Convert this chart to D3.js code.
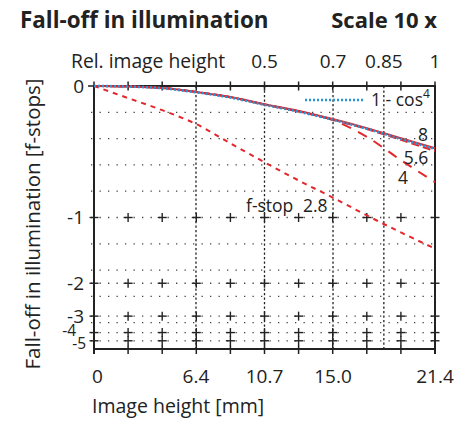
<!DOCTYPE html>
<html><head><meta charset="utf-8">
<script src="https://cdn.jsdelivr.net/npm/d3@7"></script>
<style>
body{margin:0;background:#fff}
text{font-family:"Open Sans",sans-serif;fill:#222}
</style>
</head><body>
<svg id="c" width="458" height="421"></svg>
<script>
// ---- data ----
const imageHeight = [0, 2.14, 4.28, 6.42, 8.56, 10.7, 12.84, 14.98, 17.12, 19.26, 21.4]; // mm
const f8   = [0, -0.003, -0.011, -0.033, -0.062, -0.104, -0.144, -0.194, -0.252, -0.319, -0.390];
const f56  = [0, -0.003, -0.011, -0.033, -0.062, -0.105, -0.146, -0.197, -0.258, -0.330, -0.410];
const f4   = [0, -0.003, -0.011, -0.033, -0.063, -0.105, -0.147, -0.200, -0.310, -0.478, -0.657];
const f28  = [0, -0.068, -0.139, -0.226, -0.355, -0.494, -0.642, -0.796, -0.977, -1.174, -1.389];
const cos4 = [0, -0.003, -0.012, -0.035, -0.065, -0.107, -0.148, -0.198, -0.256, -0.324, -0.395];
const xTickValues = [0, 6.4, 10.7, 15.0, 21.4];
const xTickLabels = ["0", "6.4", "10.7", "15.0", "21.4"];
const relTickValues = [10.7, 15.0, 18.19, 21.4];
const relTickLabels = ["0.5", "0.7", "0.85", "1"];
const vGridValues = [6.4, 10.7, 15.0, 18.19];
const yTickStops = [0, -1, -2, -3, -4, -5];
const yTickLabels = ["0", "-1", "-2", "-3", "-4", "-5"];
const gridIllum = [0.9, 0.8, 0.7, 0.6, 0.4, 0.3, 0.2, 0.1];
const stopRows = [-1, -2, -3, -4, -5];

// ---- scales ----
const svg = d3.select("#c");
const L = 94, R = 435, T = 86, B = 349;
const x = d3.scaleLinear().domain([0, 21.4]).range([L, R]);
const yI = d3.scaleLinear().domain([1, 0]).range([T, B]); // relative illumination
const y = v => yI(Math.pow(2, v)); // stops -> px
const red = "#e3262b", blue = "#2596d6", ink = "#222";

// title
svg.append("text").attr("x", 20).attr("y", 28).attr("font-size", 22.4).attr("font-weight", "bold")
  .text("Fall-off in illumination");
svg.append("text").attr("x", 437).attr("y", 28).attr("font-size", 22).attr("font-weight", "bold")
  .attr("text-anchor", "end").text("Scale 10 x");

// gridlines horizontal (dotted)
const g = svg.append("g");
gridIllum.concat(stopRows.map(s => Math.pow(2, s))).forEach(v => {
  g.append("line").attr("x1", L - 3).attr("x2", R + 3).attr("y1", yI(v)).attr("y2", yI(v))
    .attr("stroke", "#444").attr("stroke-width", 1.3).attr("stroke-dasharray", "1.3,7.2");
});
// vertical dotted lines
vGridValues.forEach(v => {
  g.append("line").attr("x1", x(v)).attr("x2", x(v)).attr("y1", T).attr("y2", B)
    .attr("stroke", ink).attr("stroke-width", 1.3).attr("stroke-dasharray", "2.2,2.3");
});
// plus markers
stopRows.forEach(s => {
  imageHeight.forEach(h => {
    const cx = x(h), cy = y(s);
    g.append("line").attr("x1", cx - 4.5).attr("x2", cx + 4.5).attr("y1", cy).attr("y2", cy).attr("stroke", ink).attr("stroke-width", 1.4);
    g.append("line").attr("x1", cx).attr("x2", cx).attr("y1", cy - 4.5).attr("y2", cy + 4.5).attr("stroke", ink).attr("stroke-width", 1.4);
  });
});

// frame
const fr = svg.append("g").attr("stroke", ink).attr("stroke-width", 2).attr("fill", "none");
fr.append("line").attr("x1", L).attr("x2", R + 1).attr("y1", T).attr("y2", T);
fr.append("line").attr("x1", L).attr("x2", R + 1).attr("y1", B).attr("y2", B);
fr.append("line").attr("x1", L).attr("x2", L).attr("y1", T).attr("y2", B + 5);
fr.append("line").attr("x1", R).attr("x2", R).attr("y1", T).attr("y2", B + 5);
imageHeight.forEach(h => {
  fr.append("line").attr("x1", x(h)).attr("x2", x(h)).attr("y1", T - 4.5).attr("y2", T + 4.5).attr("stroke-width", 1.5);
  fr.append("line").attr("x1", x(h)).attr("x2", x(h)).attr("y1", B - 4).attr("y2", B + 5).attr("stroke-width", 1.5);
});
fr.append("line").attr("x1", L - 6).attr("x2", L).attr("y1", T).attr("y2", T).attr("stroke-width", 1.5);

// curves
const line = d3.line().x((d, i) => x(imageHeight[i])).y(d => y(d)).curve(d3.curveMonotoneX);
const cg = svg.append("g").attr("fill", "none");
cg.append("path").attr("d", line(f28)).attr("stroke", red).attr("stroke-width", 2).attr("stroke-dasharray", "5,5");
cg.append("path").attr("d", line(f4)).attr("stroke", red).attr("stroke-width", 2).attr("stroke-dasharray", "10,8");
cg.append("path").attr("d", line(f56)).attr("stroke", red).attr("stroke-width", 2).attr("stroke-dasharray", "8,4");
cg.append("path").attr("d", line(f8)).attr("stroke", red).attr("stroke-width", 2);
cg.append("path").attr("d", line(cos4)).attr("stroke", blue).attr("stroke-width", 2.6).attr("stroke-dasharray", "2,2");

// legend
svg.append("line").attr("x1", 305).attr("x2", 363).attr("y1", 100).attr("y2", 100)
  .attr("stroke", blue).attr("stroke-width", 2.6).attr("stroke-dasharray", "2,2");
const lt = svg.append("text").attr("x", 371).attr("y", 106).attr("font-size", 17.5);
lt.append("tspan").text("1 - cos");
lt.append("tspan").attr("font-size", 12).attr("dy", -8).text("4");

// curve labels
svg.append("text").attr("x", 423).attr("y", 141).attr("font-size", 17.5).attr("text-anchor", "middle").text("8");
svg.append("text").attr("x", 416).attr("y", 164).attr("font-size", 17.5).attr("text-anchor", "middle").text("5.6");
svg.append("text").attr("x", 403).attr("y", 184).attr("font-size", 17.5).attr("text-anchor", "middle").text("4");
svg.append("text").attr("x", 246).attr("y", 212).attr("font-size", 17.5).text("f-stop");
svg.append("text").attr("x", 303).attr("y", 212).attr("font-size", 17.5).text("2.8");

// y tick labels
yTickStops.forEach((s, i) => {
  let xe = 84, cy = y(s), fs = 19;
  if (s === -4) { xe = 76; cy = 331; fs = 15.5; }
  if (s === -5) { xe = 86; cy = 344; fs = 15.5; }
  svg.append("text").attr("x", xe).attr("y", cy).attr("dy", "0.35em")
    .attr("font-size", fs).attr("text-anchor", "end").text(yTickLabels[i]);
});

// bottom tick labels
xTickValues.forEach((v, i) => {
  svg.append("text").attr("x", x(v)).attr("y", 383).attr("font-size", 19)
    .attr("text-anchor", i === 0 ? "start" : "middle").attr("dx", i === 0 ? -2 : 0).text(xTickLabels[i]);
});
svg.append("text").attr("x", 92).attr("y", 413).attr("font-size", 19.5).text("Image height [mm]");

// top labels
svg.append("text").attr("x", 71).attr("y", 68).attr("font-size", 19.3).text("Rel. image height");
relTickValues.forEach((v, i) => {
  svg.append("text").attr("x", x(v)).attr("y", 68).attr("font-size", 19).attr("text-anchor", "middle").text(relTickLabels[i]);
});

// y axis title
svg.append("text").attr("transform", "translate(40,224) rotate(-90)").attr("font-size", 20.5)
  .attr("text-anchor", "middle").text("Fall-off in illumination [f-stops]");
</script>
</body></html>
